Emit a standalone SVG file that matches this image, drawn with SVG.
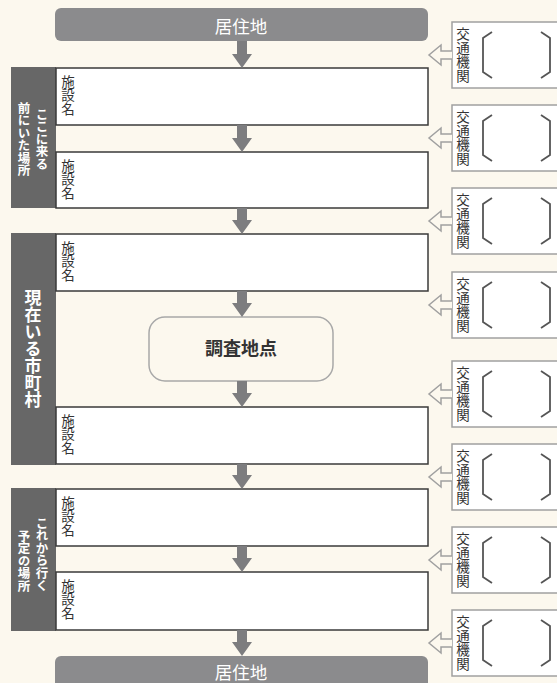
<svg xmlns="http://www.w3.org/2000/svg" width="557" height="683" viewBox="0 0 557 683">
<defs>
<style>
.bg{fill:#fcf8ee}
.hdr{fill:#8b8b8d}
.hdrt{fill:#ffffff;font-family:"Noto Sans CJK JP",sans-serif;font-size:17.5px;text-anchor:middle}
.sec{fill:#676767}
.sect{fill:#ffffff;font-family:"Noto Sans CJK JP",sans-serif;font-weight:bold;writing-mode:vertical-rl;text-anchor:middle}
.box{fill:#ffffff;stroke:#3a3a3a;stroke-width:1.5}
.bt{fill:#333333;font-family:"Noto Sans CJK JP",sans-serif;font-size:13.5px;writing-mode:vertical-rl;text-anchor:middle}
.tb{fill:#ffffff;stroke:#a0a0a0;stroke-width:1.5}
.br{fill:none;stroke:#555555;stroke-width:1.8}
.dn{fill:#7d7d7f}
.ho{fill:#fcf8ee;stroke:#a0a0a0;stroke-width:1.5;stroke-linejoin:miter}
.survey{fill:#fcf8ee;stroke:#a8a8a8;stroke-width:1.5}
.st{fill:#333333;font-family:"Noto Sans CJK JP",sans-serif;font-weight:bold;font-size:18px;text-anchor:middle}
</style>
<g id="tbox">
<rect class="tb" x="452" y="0" width="120" height="66"/>
<path class="br" d="M492,10 L483,16 L483,50 L492,56"/>
<path class="br" d="M541,10 L550,16 L550,50 L541,56"/>
<text class="bt" x="463" y="33" letter-spacing="0.5">交通機関</text>
</g>
</defs>
<rect class="bg" x="0" y="0" width="557" height="683"/>

<g id="header-top">
<rect class="hdr" x="55" y="8" width="373" height="33" rx="6"/>
<text class="hdrt" x="241" y="32.5">居住地</text>
</g>

<g id="section-before">
<rect class="sec" x="11" y="67" width="45" height="141"/>
<text class="sect" x="42" y="139" font-size="12.5">ここに来る</text>
<text class="sect" x="24" y="139" font-size="12.5">前にいた場所</text>
</g>
<g id="section-current">
<rect class="sec" x="11" y="233" width="45" height="232"/>
<text class="sect" x="33" y="349" font-size="17">現在いる市町村</text>
</g>
<g id="section-after">
<rect class="sec" x="11" y="488" width="45" height="143"/>
<text class="sect" x="42" y="554" font-size="12.5">これから行く</text>
<text class="sect" x="24" y="561" font-size="12.5">予定の場所</text>
</g>

<g id="box1"><rect class="box" x="56" y="68" width="372" height="57"/><text class="bt" x="68" y="95">施設名</text></g>
<g id="box2"><rect class="box" x="56" y="152" width="372" height="56"/><text class="bt" x="68" y="179">施設名</text></g>
<g id="box3"><rect class="box" x="56" y="234" width="372" height="57"/><text class="bt" x="68" y="261">施設名</text></g>
<g id="survey"><rect class="survey" x="149" y="317" width="184" height="64" rx="16"/><text class="st" x="241" y="355">調査地点</text></g>
<g id="box4"><rect class="box" x="56" y="407" width="372" height="57"/><text class="bt" x="68" y="434">施設名</text></g>
<g id="box5"><rect class="box" x="56" y="489" width="372" height="57"/><text class="bt" x="68" y="516">施設名</text></g>
<g id="box6"><rect class="box" x="56" y="572" width="372" height="58"/><text class="bt" x="68" y="599">施設名</text></g>

<g id="header-bottom">
<rect class="hdr" x="55" y="656" width="373" height="40" rx="6"/>
<text class="hdrt" x="241" y="679">居住地</text>
</g>

<g id="transport1"><use href="#tbox" y="22"/></g>
<g id="transport2"><use href="#tbox" y="105"/></g>
<g id="transport3"><use href="#tbox" y="188"/></g>
<g id="transport4"><use href="#tbox" y="272"/></g>
<g id="transport5"><use href="#tbox" y="361"/></g>
<g id="transport6"><use href="#tbox" y="444"/></g>
<g id="transport7"><use href="#tbox" y="527"/></g>
<g id="transport8"><use href="#tbox" y="610"/></g>

<g id="connectors">
<polygon class="dn" points="237,41 247,41 247,54 252,54 242,68 232,54 237,54"/>
<polygon class="dn" points="237,125 247,125 247,138 252,138 242,152 232,138 237,138"/>
<polygon class="dn" points="237,208 247,208 247,220 252,220 242,234 232,220 237,220"/>
<polygon class="dn" points="237,291 247,291 247,303 252,303 242,317 232,303 237,303"/>
<polygon class="dn" points="237,381 247,381 247,393 252,393 242,407 232,393 237,393"/>
<polygon class="dn" points="237,464 247,464 247,475 252,475 242,489 232,475 237,475"/>
<polygon class="dn" points="237,546 247,546 247,558 252,558 242,572 232,558 237,558"/>
<polygon class="dn" points="237,630 247,630 247,642 252,642 242,656 232,642 237,642"/>
<path class="ho" d="M452,51 L441,51 L441,45 L429,55 L441,65 L441,59 L452,59"/>
<path class="ho" d="M452,134 L441,134 L441,128 L429,138 L441,148 L441,142 L452,142"/>
<path class="ho" d="M452,217 L441,217 L441,211 L429,221 L441,231 L441,225 L452,225"/>
<path class="ho" d="M452,301 L441,301 L441,295 L429,305 L441,315 L441,309 L452,309"/>
<path class="ho" d="M452,390 L441,390 L441,384 L429,394 L441,404 L441,398 L452,398"/>
<path class="ho" d="M452,473 L441,473 L441,467 L429,477 L441,487 L441,481 L452,481"/>
<path class="ho" d="M452,556 L441,556 L441,550 L429,560 L441,570 L441,564 L452,564"/>
<path class="ho" d="M452,639 L441,639 L441,633 L429,643 L441,653 L441,647 L452,647"/>
</g>
</svg>
